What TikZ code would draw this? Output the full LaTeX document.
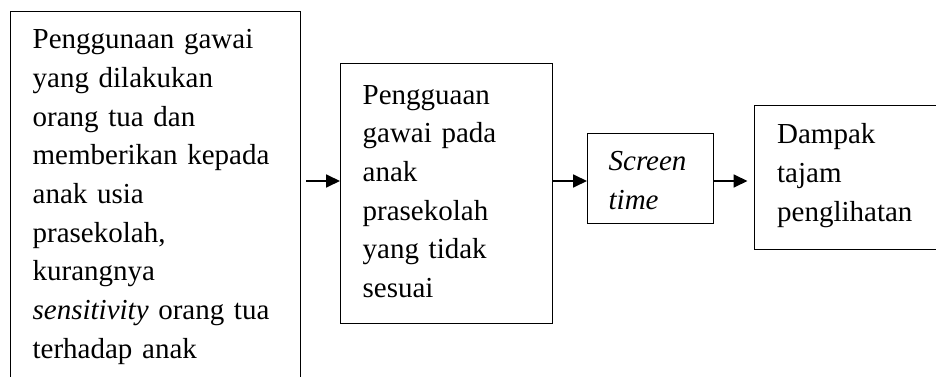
\documentclass[tikz,border=0pt]{standalone}
\usepackage{fontspec}
\setmainfont{Liberation Serif}
\usetikzlibrary{arrows.meta}
\begin{document}
\begin{tikzpicture}[x=1pt,y=-1pt,
  box/.style={draw, line width=1.3pt, inner ysep=0pt, align=left, anchor=north west,
    font=\fontsize{29}{38.7}\selectfont},
  link/.style={line width=1.8pt, -{Triangle[length=14pt,width=13pt]}}]
\useasboundingbox (0,0) rectangle (936,377);
\clip (0,0) rectangle (936,377);

% causes
\node[box, inner xsep=22pt, text width=246pt, text height=37pt, text depth=352pt]
  (b1) at (10,11)
  {Penggunaan gawai\\yang dilakukan\\orang tua dan\\memberikan kepada\\anak usia\\prasekolah,\\kurangnya\\\textit{sensitivity} orang tua\\terhadap anak};

% device use
\node[box, inner xsep=22pt, text width=168pt, text height=40.5pt, text depth=219.5pt]
  (b2) at (340,63)
  {Pengguaan\\gawai pada\\anak\\prasekolah\\yang tidak\\sesuai};

% screen time
\node[box, inner xsep=21pt, text width=84pt, text height=37pt, text depth=53pt]
  (b3) at (587,133)
  {\textit{Screen}\\\textit{time}};

% effect
\node[box, inner xsep=23pt, text width=136pt, text height=38pt, text depth=106pt]
  (b4) at (753.5,105)
  {Dampak\\tajam\\penglihatan};

\coordinate (lvl) at (0,181);
\draw[link, shorten <=5pt] (b1.east |- lvl) -- (b2.west |- lvl);
\draw[link] (b2.east |- lvl) -- (b3.west |- lvl);
\draw[link, shorten >=6pt] (b3.east |- lvl) -- (b4.west |- lvl);
\end{tikzpicture}
\end{document}
